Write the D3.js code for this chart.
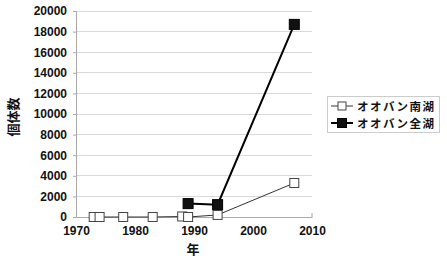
<!DOCTYPE html>
<html><head><meta charset="utf-8">
<script src="https://cdn.jsdelivr.net/npm/d3@7"></script>
<style>body{margin:0;background:#fff;}svg{display:block;}</style>
</head><body>
<script>
const southYears = [1973, 1974, 1978, 1983, 1988, 1989, 1994, 2007];
const southValues = [0, 0, 0, 0, 50, 0, 200, 3300];
const allYears = [1989, 1994, 2007];
const allValues = [1300, 1200, 18700];
const seriesNames = ["オオバン南湖", "オオバン全湖"];
const xTicks = [1970, 1980, 1990, 2000, 2010];
const yTicks = [0, 2000, 4000, 6000, 8000, 10000, 12000, 14000, 16000, 18000, 20000];

const W = 447, H = 266;
const svg = d3.select("body").append("svg").attr("width", W).attr("height", H);
const x = d3.scaleLinear().domain([1970, 2010]).range([76, 312]);
const y = d3.scaleLinear().domain([0, 20000]).range([217, 11]);
const font = "'Liberation Sans', Arial, sans-serif";
const cjk = "'Noto Sans CJK JP', sans-serif";

// gridlines
svg.append("g").selectAll("line").data(yTicks.slice(1)).join("line")
  .attr("x1", 76).attr("x2", 312).attr("y1", d => y(d)).attr("y2", d => y(d))
  .attr("stroke", "#d9d9d9").attr("stroke-width", 1).attr("shape-rendering", "crispEdges");

// y axis
const ya = svg.append("g").attr("transform", "translate(76,0)")
  .call(d3.axisLeft(y).tickValues(yTicks).tickSize(3).tickPadding(6).tickFormat(d3.format("d")));
ya.select(".domain").attr("stroke", "#aaa");
ya.selectAll(".tick line").attr("stroke", "#aaa");
ya.selectAll("text").attr("font-family", font).attr("font-size", 12).attr("font-weight", "bold").attr("fill", "#111");

// x axis
const xa = svg.append("g").attr("transform", "translate(0,217)")
  .call(d3.axisBottom(x).tickValues(xTicks).tickSize(0).tickPadding(9).tickFormat(d3.format("d")));
xa.select(".domain").attr("stroke", "#aaa");
xa.selectAll("text").attr("font-family", font).attr("font-size", 12).attr("font-weight", "bold").attr("fill", "#111");
svg.append("line").attr("x1", x(2010)).attr("x2", x(2010)).attr("y1", 217).attr("y2", 213).attr("stroke", "#aaa");

// axis titles
svg.append("text").attr("transform", "translate(18,117) rotate(-90)").attr("text-anchor", "middle")
  .attr("font-family", cjk).attr("font-size", 13).attr("font-weight", "bold").attr("fill", "#111").text("個体数");
svg.append("text").attr("x", 193).attr("y", 254).attr("text-anchor", "middle")
  .attr("font-family", cjk).attr("font-size", 13).attr("font-weight", "bold").attr("fill", "#111").text("年");

const line = d3.line().x(d => x(d[0])).y(d => y(d[1]));
const south = southYears.map((d, i) => [d, southValues[i]]);
const all = allYears.map((d, i) => [d, allValues[i]]);

svg.append("path").datum(south).attr("d", line).attr("fill", "none").attr("stroke", "#333").attr("stroke-width", 1);
svg.append("g").selectAll("rect").data(south).join("rect")
  .attr("x", d => x(d[0]) - 4.5).attr("y", d => y(d[1]) - 4.5).attr("width", 9).attr("height", 9)
  .attr("fill", "#fff").attr("stroke", "#444").attr("stroke-width", 1);

svg.append("path").datum(all).attr("d", line).attr("fill", "none").attr("stroke", "#000").attr("stroke-width", 2);
svg.append("g").selectAll("rect").data(all).join("rect")
  .attr("x", d => x(d[0]) - 5).attr("y", d => y(d[1]) - 5).attr("width", 10).attr("height", 10)
  .attr("fill", "#111").attr("stroke", "#000");

// legend
const lg = svg.append("g");
lg.append("rect").attr("x", 327.5).attr("y", 96.5).attr("width", 112).attr("height", 36)
  .attr("fill", "#fff").attr("stroke", "#ccc");
seriesNames.forEach((name, i) => {
  const ly = 106 + i * 17;
  const filled = i === 1;
  lg.append("line").attr("x1", 331).attr("x2", 353).attr("y1", ly).attr("y2", ly)
    .attr("stroke", filled ? "#000" : "#333").attr("stroke-width", filled ? 2 : 1);
  lg.append("rect").attr("x", 342 - (filled ? 4.5 : 4)).attr("y", ly - (filled ? 4.5 : 4))
    .attr("width", filled ? 9 : 8).attr("height", filled ? 9 : 8)
    .attr("fill", filled ? "#111" : "#fff").attr("stroke", filled ? "#000" : "#444");
  lg.append("text").attr("x", 357).attr("y", ly + 4.5).attr("font-family", cjk).attr("font-size", 11.5)
    .attr("letter-spacing", 1.5)
    .attr("font-weight", "bold").attr("fill", "#111").text(name);
});
</script>
</body></html>
